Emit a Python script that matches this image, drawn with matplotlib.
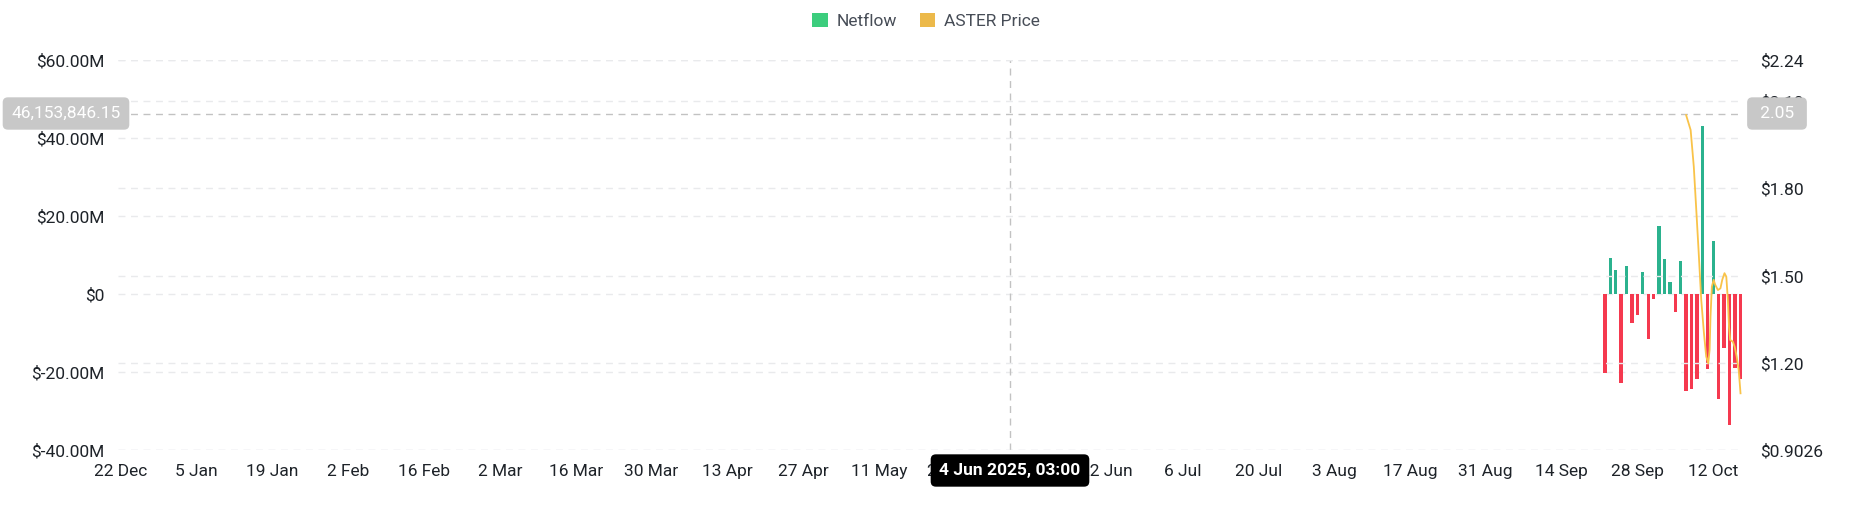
import numpy as np
import pandas as pd
import matplotlib
matplotlib.use("Agg")
import matplotlib.pyplot as plt
from matplotlib.patches import Patch

plt.rcParams['font.family'] = ['Roboto', 'DejaVu Sans']

# ---------------- data ----------------
# daily exchange netflow (USD), 22 Sep -> 17 Oct 2025
netflow_dates = pd.date_range('2025-09-22', '2025-10-17', freq='D')
netflow_m = [-20.2, 9.2, 6.2, -22.7, 7.3, -7.5, -5.4, 5.6, -11.5, -1.3,
             17.5, 9.0, 3.2, -4.6, 8.5, -24.9, -24.4, -21.9, 43.1, -19.3,
             13.6, -26.9, -13.9, -33.6, -19.1, -21.7]

# ASTER price (USD)
price_times = ['2025-10-07 00:00', '2025-10-07 20:00', '2025-10-08 10:00', '2025-10-08 21:00',
               '2025-10-09 07:00', '2025-10-09 19:00', '2025-10-10 07:00', '2025-10-10 17:00',
               '2025-10-11 02:00', '2025-10-11 08:00', '2025-10-11 12:00', '2025-10-11 18:00',
               '2025-10-12 02:00', '2025-10-12 09:00', '2025-10-12 21:00', '2025-10-13 08:00',
               '2025-10-13 16:00', '2025-10-14 02:00', '2025-10-14 10:00', '2025-10-14 17:00',
               '2025-10-14 22:00', '2025-10-15 03:00', '2025-10-15 15:00', '2025-10-15 23:00',
               '2025-10-16 08:00', '2025-10-16 17:00', '2025-10-17 01:00']
price = [2.051, 2.000, 1.874, 1.726, 1.589, 1.417, 1.303, 1.223,
         1.200, 1.246, 1.360, 1.463, 1.486, 1.469, 1.451, 1.457,
         1.486, 1.509, 1.497, 1.417, 1.326, 1.280, 1.274, 1.257,
         1.223, 1.177, 1.097]

left_ticks = [-40e6, -20e6, 0, 20e6, 40e6, 60e6]
left_labels = ['$-40.00M', '$-20.00M', '$0', '$20.00M', '$40.00M', '$60.00M']
right_ticks = [0.9026, 1.20, 1.50, 1.80, 2.10, 2.24]
right_labels = ['$0.9026', '$1.20', '$1.50', '$1.80', '$2.10', '$2.24']
x_ticks = pd.date_range('2024-12-22', '2025-10-12', freq='14D')

cross_time = pd.Timestamp('2025-06-04 03:00')
cross_value = 46153846.15
cross_price = 2.05

# ---------------- colors ----------------
GREEN = '#2bb28e'
RED = '#f5394f'
LINE = '#f9c349'
GRID = '#e9eaec'
TXT = '#1e2329'
FS = 12.5

fig = plt.figure(figsize=(18.52, 5.25), dpi=100)
ax = fig.add_axes([118/1852, 1-450/525, (1743-118)/1852, 390/525])
ax2 = ax.twinx()

vals = np.array(netflow_m) * 1e6
cols = [GREEN if v >= 0 else RED for v in vals]
ax.bar(netflow_dates, vals, width=0.62, color=cols, zorder=3)

ax2.plot(pd.to_datetime(price_times), price, color=LINE, lw=1.3, zorder=4)

ax.set_xlim(pd.Timestamp('2024-12-21 12:00'), pd.Timestamp('2025-10-17 12:00'))
ax.set_ylim(-40e6, 60e6)
ax2.set_ylim(0.9026, 2.24)

ax.set_yticks(left_ticks)
ax.set_yticklabels(left_labels)
ax2.set_yticks(right_ticks)
ax2.set_yticklabels(right_labels)
ax.set_xticks(x_ticks)
ax.set_xticklabels([f"{d.day} {d:%b}" for d in x_ticks])

for a in (ax, ax2):
    for s in a.spines.values():
        s.set_visible(False)
    a.tick_params(length=0, labelsize=FS, colors=TXT)
    a.grid(axis='y', color=GRID, ls=(0, (5, 4)), lw=1)
    a.set_axisbelow(True)
ax.tick_params(axis='y', pad=10)
ax.tick_params(axis='x', pad=10)
ax2.tick_params(axis='y', pad=12)

# crosshair
ax.axhline(cross_value, color='#c2c2c2', ls=(0, (5, 4)), lw=1, zorder=2)
ax.axvline(cross_time, color='#c2c2c2', ls=(0, (5, 4)), lw=1, zorder=2)

fig.text(66/1852, 1-113.5/525, f"{cross_value:,.2f}", ha='center', va='center',
         fontsize=FS, color='white', zorder=10,
         bbox=dict(boxstyle='round,pad=0.5,rounding_size=0.3', fc='#c8c8c8', ec='none'))
fig.text(1777/1852, 1-113.5/525, f" {cross_price:.2f} ", ha='center', va='center',
         fontsize=FS, color='white', zorder=10,
         bbox=dict(boxstyle='round,pad=0.5,rounding_size=0.3', fc='#c8c8c8', ec='none'))
fig.text(1010/1852, 1-470.5/525, f"{cross_time.day} {cross_time:%b %Y, %H:%M}",
         ha='center', va='center', fontsize=FS, color='white', fontweight='bold', zorder=10,
         bbox=dict(boxstyle='round,pad=0.5,rounding_size=0.3', fc='black', ec='none'))

# legend
handles = [Patch(facecolor='#3ccd7d', label='Netflow'),
           Patch(facecolor='#ecb94a', label='ASTER Price')]
fig.legend(handles=handles, loc='upper center', bbox_to_anchor=(0.5, 1.005), ncol=2,
           frameon=False, fontsize=FS, handlelength=0.9, handleheight=0.9,
           handletextpad=0.5, columnspacing=1.3, labelcolor='#474d57')

fig.savefig('out.png', dpi=100)
